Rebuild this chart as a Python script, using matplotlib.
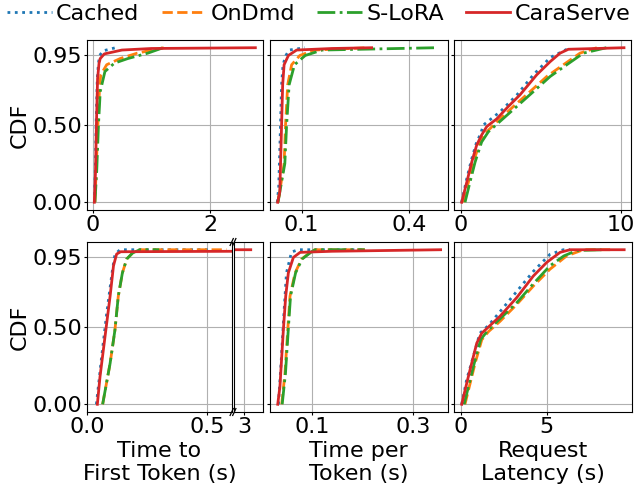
import matplotlib
matplotlib.use("Agg")
import matplotlib.pyplot as plt

# ---------------- data ----------------
series = ["Cached", "OnDmd", "S-LoRA", "CaraServe"]
colors = ["tab:blue", "tab:orange", "tab:green", "tab:red"]
styles = [":", "--", "-.", "-"]

# Top row: Time to first token (s)
top_ttft_x = {
    "Cached":    [0.03, 0.05, 0.06, 0.08, 0.10, 0.12, 0.18, 0.39],
    "OnDmd":     [0.04, 0.06, 0.09, 0.12, 0.14, 0.24, 0.47, 0.76, 1.21],
    "S-LoRA":    [0.04, 0.07, 0.10, 0.13, 0.21, 0.37, 0.60, 0.94, 1.20],
    "CaraServe": [0.03, 0.05, 0.065, 0.085, 0.11, 0.13, 0.20, 0.50, 1.00, 2.77],
}
top_ttft_y = {
    "Cached":    [0.0, 0.25, 0.5, 0.8, 0.9, 0.95, 0.98, 1.0],
    "OnDmd":     [0.0, 0.2, 0.5, 0.75, 0.825, 0.89, 0.93, 0.965, 1.0],
    "S-LoRA":    [0.0, 0.2, 0.5, 0.716, 0.846, 0.90, 0.93, 0.965, 1.0],
    "CaraServe": [0.0, 0.2, 0.5, 0.8, 0.9, 0.93, 0.96, 0.985, 0.995, 1.0],
}

# Top row: Time per token (s)
top_tpot_x = {
    "Cached":    [0.032, 0.036, 0.041, 0.044, 0.048, 0.056, 0.065, 0.109],
    "OnDmd":     [0.034, 0.051, 0.055, 0.061, 0.072, 0.095, 0.136, 0.285],
    "S-LoRA":    [0.034, 0.053, 0.058, 0.065, 0.080, 0.110, 0.157, 0.473],
    "CaraServe": [0.033, 0.039, 0.044, 0.047, 0.051, 0.063, 0.086, 0.184, 0.295],
}
top_tpot_y = {
    "Cached":    [0.0, 0.1, 0.5, 0.76, 0.89, 0.95, 0.985, 1.0],
    "OnDmd":     [0.0, 0.25, 0.5, 0.76, 0.89, 0.95, 0.985, 1.0],
    "S-LoRA":    [0.0, 0.25, 0.5, 0.76, 0.89, 0.95, 0.985, 1.0],
    "CaraServe": [0.0, 0.068, 0.5, 0.76, 0.89, 0.95, 0.985, 0.995, 1.0],
}

# Top row: Request latency (s)
top_lat_x = {
    "Cached":    [0.04, 0.33, 0.64, 0.95, 1.25, 1.40, 2.45, 3.50, 4.53, 5.58, 6.62, 6.72],
    "OnDmd":     [0.15, 0.46, 0.77, 1.19, 1.61, 2.24, 3.28, 4.32, 5.37, 6.41, 7.45, 8.50],
    "S-LoRA":    [0.25, 0.56, 0.88, 1.29, 1.71, 2.35, 3.49, 4.53, 5.58, 6.62, 7.66, 9.10],
    "CaraServe": [0.04, 0.36, 0.67, 0.98, 1.29, 1.61, 2.24, 2.96, 3.69, 4.74, 5.58, 6.20, 6.72, 10.2],
}
top_lat_y = {
    "Cached":    [0.0, 0.14, 0.27, 0.38, 0.45, 0.50, 0.586, 0.695, 0.825, 0.936, 0.99, 1.0],
    "OnDmd":     [0.0, 0.13, 0.26, 0.39, 0.456, 0.52, 0.62, 0.716, 0.814, 0.89, 0.965, 1.0],
    "S-LoRA":    [0.0, 0.13, 0.26, 0.39, 0.456, 0.515, 0.62, 0.716, 0.814, 0.89, 0.965, 1.0],
    "CaraServe": [0.0, 0.13, 0.26, 0.37, 0.435, 0.49, 0.54, 0.62, 0.695, 0.825, 0.91, 0.965, 0.99, 1.0],
}

# Bottom row: Time to first token (s)  (broken axis, tail at ~3 s)
bot_ttft_x = {
    "Cached":    [0.039, 0.061, 0.082, 0.104, 0.116, 0.137, 0.504],
    "OnDmd":     [0.065, 0.096, 0.116, 0.130, 0.147, 0.165, 0.190, 0.220, 0.580],
    "S-LoRA":    [0.065, 0.096, 0.116, 0.130, 0.147, 0.165, 0.190, 0.220, 0.300],
    "CaraServe": [0.043, 0.054, 0.075, 0.096, 0.110, 0.123, 0.140, 0.620, 2.70, 3.21],
}
bot_ttft_y = {
    "Cached":    [0.0, 0.31, 0.59, 0.85, 0.97, 1.0, 1.0],
    "OnDmd":     [0.0, 0.265, 0.48, 0.70, 0.85, 0.94, 0.98, 1.0, 1.0],
    "S-LoRA":    [0.0, 0.265, 0.48, 0.70, 0.85, 0.94, 0.98, 1.0, 1.0],
    "CaraServe": [0.0, 0.178, 0.44, 0.70, 0.896, 0.972, 0.987, 0.99, 1.0, 1.0],
}

# Bottom row: Time per token (s)
bot_tpot_x = {
    "Cached":    [0.034, 0.0393, 0.045, 0.050, 0.060, 0.073, 0.2055],
    "OnDmd":     [0.0406, 0.047, 0.0525, 0.057, 0.067, 0.080, 0.100, 0.106, 0.205],
    "S-LoRA":    [0.0415, 0.048, 0.0535, 0.058, 0.068, 0.081, 0.101, 0.107, 0.205],
    "CaraServe": [0.0327, 0.037, 0.0438, 0.0485, 0.0537, 0.0636, 0.077, 0.140, 0.355],
}
bot_tpot_y = {
    "Cached":    [0.0, 0.265, 0.59, 0.85, 0.985, 1.0, 1.0],
    "OnDmd":     [0.0, 0.2, 0.48, 0.70, 0.85, 0.94, 0.99, 1.0, 1.0],
    "S-LoRA":    [0.0, 0.2, 0.48, 0.70, 0.85, 0.94, 0.99, 1.0, 1.0],
    "CaraServe": [0.0, 0.113, 0.48, 0.70, 0.85, 0.95, 0.983, 0.99, 1.0],
}

# Bottom row: Request latency (s)
bot_lat_x = {
    "Cached":    [0.04, 0.33, 0.72, 1.10, 1.60, 2.28, 3.25, 4.22, 5.19, 5.97, 6.36],
    "OnDmd":     [0.23, 0.53, 0.82, 1.21, 1.60, 2.28, 3.25, 4.22, 5.19, 6.16, 7.14, 8.70],
    "S-LoRA":    [0.18, 0.48, 0.77, 1.15, 1.55, 2.20, 3.25, 4.22, 5.19, 6.00, 6.75, 8.40],
    "CaraServe": [0.04, 0.33, 0.62, 0.92, 1.21, 1.60, 2.28, 3.25, 4.22, 5.00, 5.78, 6.36, 9.52],
}
bot_lat_y = {
    "Cached":    [0.0, 0.16, 0.31, 0.46, 0.51, 0.60, 0.73, 0.86, 0.97, 1.0, 1.0],
    "OnDmd":     [0.0, 0.135, 0.265, 0.417, 0.47, 0.537, 0.646, 0.765, 0.874, 0.96, 1.0, 1.0],
    "S-LoRA":    [0.0, 0.135, 0.265, 0.42, 0.475, 0.545, 0.657, 0.78, 0.896, 0.96, 0.995, 1.0],
    "CaraServe": [0.0, 0.135, 0.265, 0.396, 0.46, 0.50, 0.57, 0.69, 0.83, 0.918, 0.983, 1.0, 1.0],
}

ytick_vals = [0.0, 0.5, 0.95]
ytick_labels = ["0.00", "0.50", "0.95"]

# ---------------- figure ----------------
FS = 16
W, H = 637, 492
fig = plt.figure(figsize=(W / 100, H / 100), dpi=100)


def px_axes(x0, x1, ytop, ybot):
    return fig.add_axes([x0 / W, 1 - ybot / H, (x1 - x0) / W, (ybot - ytop) / H])


def style(ax, xticks, xticklabels, xlim, left_labels):
    ax.set_xlim(*xlim)
    ax.set_ylim(-0.05, 1.05)
    ax.set_xticks(xticks)
    ax.set_xticklabels(xticklabels)
    ax.set_yticks(ytick_vals)
    if left_labels:
        ax.set_yticklabels(ytick_labels)
        ax.set_ylabel("CDF", fontsize=FS, labelpad=2)
    else:
        ax.set_yticklabels([])
    ax.grid(True, color="#b0b0b0", linewidth=0.8)
    ax.tick_params(labelsize=FS, length=2, pad=1.5)


def draw(ax, xs, ys):
    lines = []
    for name, c, ls in zip(series, colors, styles):
        (ln,) = ax.plot(xs[name], ys[name], color=c, linestyle=ls, linewidth=2, label=name)
        lines.append(ln)
    return lines


ROW1 = (40, 210)
ROW2 = (242, 412)

ax1 = px_axes(87, 263, *ROW1)
handles = draw(ax1, top_ttft_x, top_ttft_y)
style(ax1, [0, 2], ["0", "2"], (-0.095, 2.9), True)

ax2 = px_axes(270, 447.7, *ROW1)
draw(ax2, top_tpot_x, top_tpot_y)
style(ax2, [0.1, 0.4], ["0.1", "0.4"], (0.0117, 0.507), False)

ax3 = px_axes(454, 631, *ROW1)
draw(ax3, top_lat_x, top_lat_y)
style(ax3, [0, 10], ["0", "10"], (-0.44, 10.64), False)

# bottom-left broken axis
ax4 = px_axes(87, 231.7, *ROW2)
draw(ax4, bot_ttft_x, bot_ttft_y)
style(ax4, [0.0, 0.5], ["0.0", "0.5"], (0.0, 0.601), True)
ax4.set_xlabel("Time to\nFirst Token (s)", fontsize=FS, labelpad=3)

ax4b = px_axes(234.3, 263.3, *ROW2)
draw(ax4b, bot_ttft_x, bot_ttft_y)
style(ax4b, [3], ["3"], (2.7, 3.6), False)
ax4b.tick_params(axis="y", length=0)

# break marks (small diagonal strokes across the gap)
dy = 0.007
dx = 0.0025
for xx in (231.7 / W, 234.3 / W):
    for yy in (1 - ROW2[1] / H, 1 - ROW2[0] / H):
        fig.lines.append(plt.Line2D([xx - dx, xx + dx], [yy - dy, yy + dy],
                                    transform=fig.transFigure, color="k", linewidth=0.9))

ax5 = px_axes(270, 447.7, *ROW2)
draw(ax5, bot_tpot_x, bot_tpot_y)
style(ax5, [0.1, 0.3], ["0.1", "0.3"], (0.0174, 0.369), False)
ax5.set_xlabel("Time per\nToken (s)", fontsize=FS, labelpad=3)

ax6 = px_axes(454, 631.7, *ROW2)
draw(ax6, bot_lat_x, bot_lat_y)
style(ax6, [0, 5], ["0", "5"], (-0.41, 9.96), False)
ax6.set_xlabel("Request\nLatency (s)", fontsize=FS, labelpad=3)

fig.legend(handles, series, loc="center", bbox_to_anchor=(319 / W, 1 - 14 / H),
           ncol=4, frameon=False, fontsize=FS, handlelength=2.0,
           handletextpad=0.2, columnspacing=1.0, borderaxespad=0, borderpad=0)

fig.savefig("out.png", dpi=100)
